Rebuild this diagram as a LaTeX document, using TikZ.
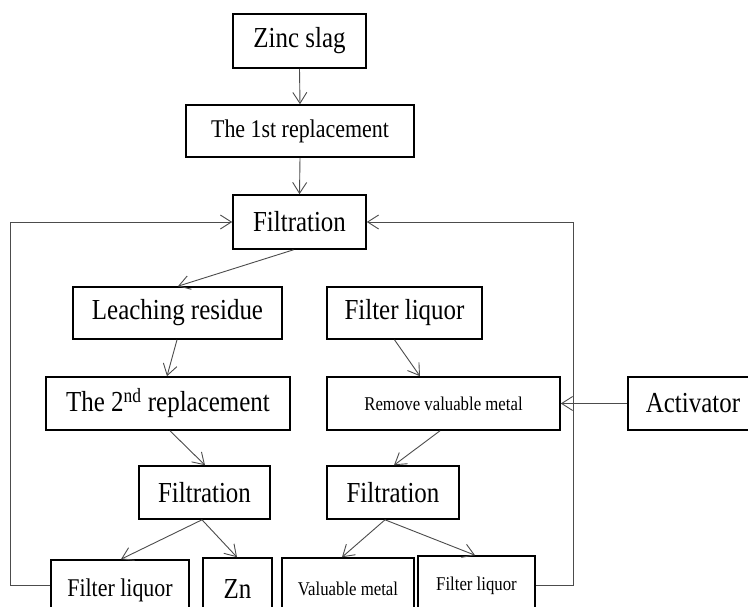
\documentclass[tikz,border=0pt]{standalone}
\usepackage{fontspec}
\setmainfont{Liberation Serif}[FakeStretch=0.86]
\usetikzlibrary{arrows.meta}
\begin{document}
\begin{tikzpicture}[x=1pt,y=-1pt,
  box/.style={draw=black,line width=1.6pt,fill=white,inner sep=0pt,align=center},
  big/.style={font=\fontsize{29}{34}\selectfont},
  mid/.style={font=\fontsize{25.5}{30}\selectfont},
  small/.style={font=\fontsize{19.5}{23}\selectfont},
  arr/.style={draw=black!70,line width=0.9pt,-{Straight Barb[length=11pt,width=14pt,line width=0.9pt]}}
]
\useasboundingbox (0,0) rectangle (748,607);
\clip (0,0) rectangle (748,607);
\fill[white] (0,0) rectangle (748,607);

\node[box,big,minimum width=133pt,minimum height=54pt] (zinc) at (299.5,41) {Zinc slag};
\node[box,mid,minimum width=228pt,minimum height=52pt] (rep1) at (300,131) {The 1st replacement};
\node[box,big,minimum width=133pt,minimum height=54pt] (filt1) at (299.5,222) {Filtration};
\node[box,big,minimum width=209pt,minimum height=52pt] (leach) at (177.5,313) {Leaching residue};
\node[box,big,minimum width=155pt,minimum height=52pt] (fliq1) at (404.5,313) {Filter liquor};
\node[box,big,minimum width=244pt,minimum height=53pt] (rep2) at (168,403.5) {The 2\textsuperscript{nd} replacement};
\node[box,small,minimum width=233pt,minimum height=53pt] (remove) at (443.5,403.5) {Remove valuable metal};
\node[box,big,minimum width=130pt,minimum height=53pt] (activ) at (693,403.5) {Activator};
\node[box,big,minimum width=131pt,minimum height=53pt] (filt2) at (204.5,492.5) {Filtration};
\node[box,big,minimum width=132pt,minimum height=53pt] (filt3) at (393,492.5) {Filtration};
\node[box,mid,minimum width=138pt,minimum height=60pt] (fliq2) at (120,590) {Filter liquor};
\node[box,big,minimum width=69pt,minimum height=62pt] (zn) at (237.5,589) {Zn};
\node[box,small,minimum width=132pt,minimum height=62pt] (valm) at (348,589) {Valuable metal};
\node[box,small,minimum width=117pt,minimum height=60pt] (fliq3) at (476.5,586) {Filter liquor};

\draw[arr] (zinc.south) -- (rep1.north);
\draw[arr] (rep1.south) -- (filt1.north);
\draw[arr] ([xshift=-6pt]filt1.south) -- ([xshift=0.5pt]leach.north);
\draw[arr] ([xshift=-0.5pt]leach.south) -- ([xshift=-1pt]rep2.north);
\draw[arr] ([xshift=-10pt]fliq1.south) -- ([xshift=-23.5pt]remove.north);
\draw[arr] (activ.west) -- (remove.east);
\draw[arr] ([xshift=2pt]rep2.south) -- ([xshift=0.5pt]filt2.north);
\draw[arr] ([xshift=-3.5pt]remove.south) -- ([xshift=1pt]filt3.north);
\draw[arr] ([xshift=-2.5pt]filt2.south) -- ([xshift=1pt]fliq2.north);
\draw[arr] ([xshift=-2.5pt]filt2.south) -- ([xshift=-0.5pt]zn.north);
\draw[arr] ([xshift=-8pt]filt3.south) -- ([xshift=-6pt]valm.north);
\draw[arr] ([xshift=-8pt]filt3.south) -- ([xshift=-1.5pt]fliq3.north);
\draw[arr] ([yshift=5pt]fliq2.west) -- ++(-40,0) |- (filt1.west);
\draw[arr] ([yshift=1pt]fliq3.east) -- ++(38,0) |- (filt1.east);
\end{tikzpicture}
\end{document}
